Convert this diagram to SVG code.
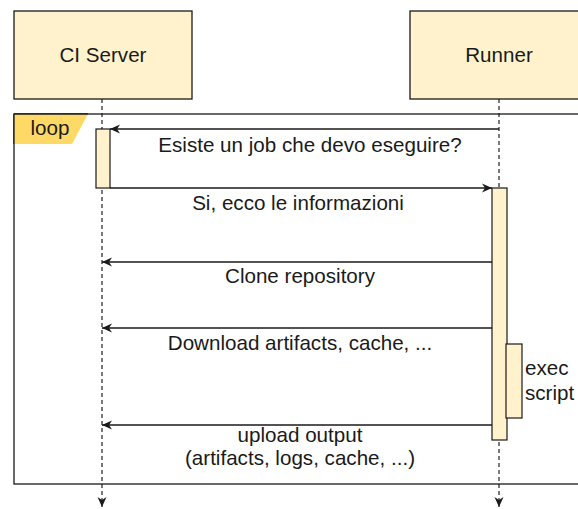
<svg xmlns="http://www.w3.org/2000/svg" width="578" height="509" viewBox="0 0 578 509">
  <style>
    text { font-family: "Liberation Sans", Arial, Helvetica, sans-serif; font-size: 20.6px; fill: #1a1a1a; }
    .head { fill: #fff2cc; stroke: #1a1a1a; stroke-width: 1.3; }
    .bar { fill: #fff2cc; stroke: #1a1a1a; stroke-width: 1.2; }
    .life { stroke: #333; stroke-width: 1.3; stroke-dasharray: 4 3; fill: none; }
    .msg { stroke: #1a1a1a; stroke-width: 1.3; fill: none; }
    .frame { fill: none; stroke: #1a1a1a; stroke-width: 1.3; }
    .mid { text-anchor: middle; }
  </style>
  <defs>
    <marker id="arrow" markerUnits="userSpaceOnUse" markerWidth="12" markerHeight="10" refX="10" refY="5" orient="auto">
      <path d="M0,0.5 L10,5 L0,9.5 L3,5 z" fill="#1a1a1a"/>
    </marker>
  </defs>

  <rect width="578" height="509" fill="#ffffff"/>

  <!-- lifelines -->
  <g id="lifelines">
    <line class="life" x1="102" y1="99" x2="102" y2="507" marker-end="url(#arrow)"/>
    <line class="life" x1="499" y1="99" x2="499" y2="507" marker-end="url(#arrow)"/>
  </g>

  <!-- participants -->
  <g id="ci-server">
    <rect class="head" x="14" y="11" width="178" height="88"/>
    <text class="mid" x="103" y="62">CI Server</text>
  </g>
  <g id="runner">
    <rect class="head" x="410" y="11" width="178" height="88"/>
    <text class="mid" x="499" y="62">Runner</text>
  </g>

  <!-- loop fragment -->
  <g id="loop">
    <rect class="frame" x="14" y="114" width="600" height="370"/>
    <path d="M14,114 L88,114 L72,144 L14,144 z" fill="#ffd966"/>
    <line class="frame" x1="14" y1="114" x2="88" y2="114"/>
    <line class="frame" x1="14" y1="114" x2="14" y2="144"/>
    <text class="mid" x="50" y="135">loop</text>
  </g>

  <!-- activations -->
  <g id="ci-activation">
    <rect class="bar" x="96" y="129" width="14" height="59"/>
  </g>
  <g id="runner-activation">
    <rect class="bar" x="492" y="188" width="15" height="252"/>
  </g>
  <g id="exec-script">
    <rect class="bar" x="506" y="344" width="16" height="74"/>
    <text x="525" y="375">exec</text>
    <text x="525" y="400">script</text>
  </g>

  <!-- messages -->
  <g id="connectors">
    <line class="msg" x1="499" y1="129" x2="110" y2="129" marker-end="url(#arrow)"/>
    <line class="msg" x1="110" y1="188" x2="492" y2="188" marker-end="url(#arrow)"/>
    <line class="msg" x1="492" y1="262" x2="102" y2="262" marker-end="url(#arrow)"/>
    <line class="msg" x1="492" y1="328" x2="102" y2="328" marker-end="url(#arrow)"/>
    <line class="msg" x1="492" y1="425" x2="102" y2="425" marker-end="url(#arrow)"/>
    <text class="mid" x="310" y="152">Esiste un job che devo eseguire?</text>
    <text class="mid" x="298" y="210">Si, ecco le informazioni</text>
    <text class="mid" x="300" y="283">Clone repository</text>
    <text class="mid" x="300" y="350">Download artifacts, cache, ...</text>
    <text class="mid" x="300" y="442">upload output</text>
    <text class="mid" x="300" y="465">(artifacts, logs, cache, ...)</text>
  </g>
</svg>
